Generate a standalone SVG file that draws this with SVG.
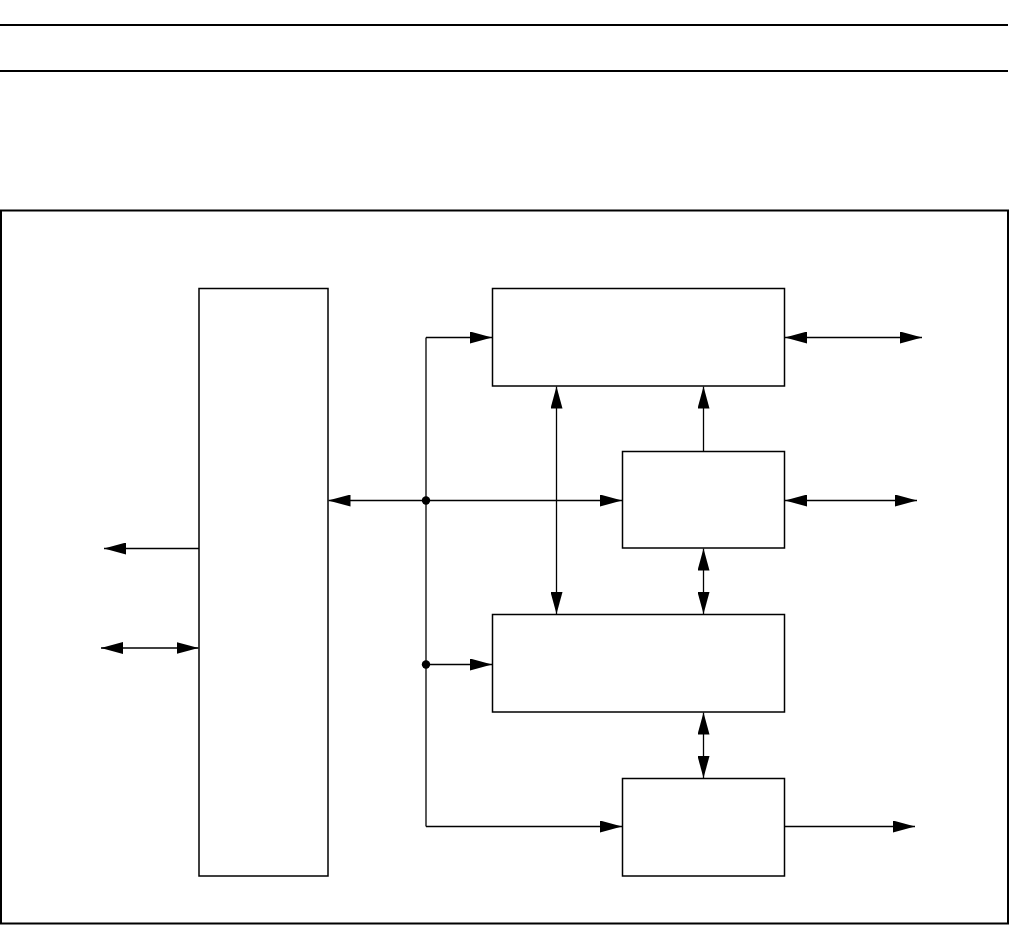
<svg xmlns="http://www.w3.org/2000/svg" width="1010" height="926" viewBox="0 0 1010 926">
<style>
.box{fill:#fff;stroke:#000;stroke-width:1.5}
.ln{fill:none;stroke:#000;stroke-width:1.3}
.rule{stroke:#000;stroke-width:2}
</style>
<defs>
<marker id="ah" viewBox="0 0 22 12" markerWidth="22" markerHeight="12" refX="22" refY="6" markerUnits="userSpaceOnUse" orient="auto-start-reverse">
<path d="M0,0 L22,6 L0,12 z" fill="#000"/>
</marker>
</defs>
<rect width="1010" height="926" fill="#fff"/>
<line class="rule" x1="0" y1="25" x2="1008" y2="25"/>
<line class="rule" x1="0" y1="71" x2="1008" y2="71"/>
<rect x="1" y="210.5" width="1007" height="713" fill="none" stroke="#000" stroke-width="2"/>
<g id="node-left"><rect class="box" x="199" y="288.5" width="129" height="587.5"/></g>
<g id="node-top"><rect class="box" x="492.5" y="288.5" width="292" height="97.5"/></g>
<g id="node-mid"><rect class="box" x="622.5" y="451.5" width="162" height="96.5"/></g>
<g id="node-lower"><rect class="box" x="492.5" y="614.5" width="292" height="97.5"/></g>
<g id="node-bottom"><rect class="box" x="622.5" y="778.5" width="162" height="97.5"/></g>
<g id="connectors">
<line class="ln" x1="426" y1="337.5" x2="426" y2="826.5"/>
<line class="ln" x1="426" y1="337.5" x2="492" y2="337.5" marker-end="url(#ah)"/>
<line class="ln" x1="328.5" y1="500.5" x2="622" y2="500.5" marker-start="url(#ah)" marker-end="url(#ah)"/>
<line class="ln" x1="426" y1="664.5" x2="492" y2="664.5" marker-end="url(#ah)"/>
<line class="ln" x1="426" y1="826.5" x2="622" y2="826.5" marker-end="url(#ah)"/>
<circle cx="426" cy="500.5" r="4.2" fill="#000"/>
<circle cx="426" cy="664.5" r="4.2" fill="#000"/>
<line class="ln" x1="556.5" y1="386.5" x2="556.5" y2="614" marker-start="url(#ah)" marker-end="url(#ah)"/>
<line class="ln" x1="703.5" y1="451" x2="703.5" y2="386.5" marker-end="url(#ah)"/>
<line class="ln" x1="703.5" y1="548.5" x2="703.5" y2="614" marker-start="url(#ah)" marker-end="url(#ah)"/>
<line class="ln" x1="703.5" y1="712.5" x2="703.5" y2="778" marker-start="url(#ah)" marker-end="url(#ah)"/>
<line class="ln" x1="785" y1="337.5" x2="922" y2="337.5" marker-start="url(#ah)" marker-end="url(#ah)"/>
<line class="ln" x1="785" y1="500.5" x2="917" y2="500.5" marker-start="url(#ah)" marker-end="url(#ah)"/>
<line class="ln" x1="785" y1="826.5" x2="915" y2="826.5" marker-end="url(#ah)"/>
<line class="ln" x1="199" y1="548.5" x2="104" y2="548.5" marker-end="url(#ah)"/>
<line class="ln" x1="101" y1="648" x2="198.5" y2="648" marker-start="url(#ah)" marker-end="url(#ah)"/>
</g>
</svg>
